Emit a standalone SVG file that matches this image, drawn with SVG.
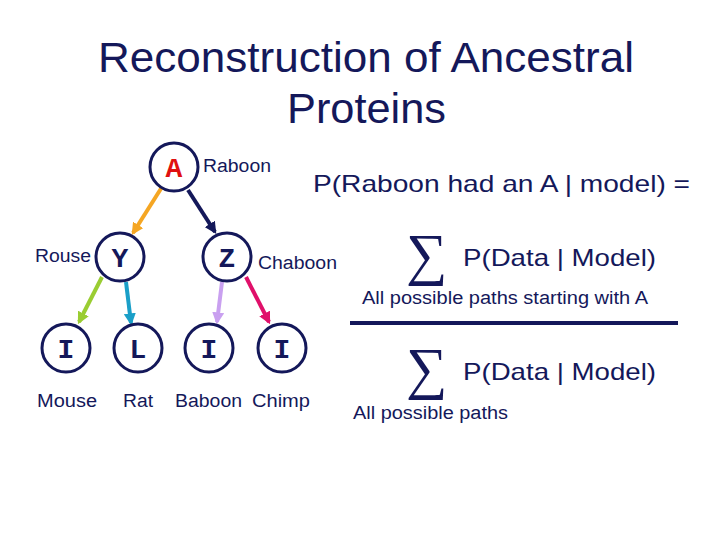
<svg xmlns="http://www.w3.org/2000/svg" width="720" height="540" viewBox="0 0 720 540">
<style>
.t{font-family:"Liberation Sans",Arial,sans-serif;fill:#14185a}
.n{fill:#fff;stroke:#14185a;stroke-width:3}
.m{font-family:"Liberation Mono","Courier New",monospace;font-weight:bold;font-size:28px;fill:#14185a;text-anchor:middle}
.s{font-family:"Liberation Serif","Times New Roman",serif;font-size:58px;fill:#14185a}
.c{stroke-width:4;fill:none}
</style>
<defs>
<marker id="ah" viewBox="0 0 10 10" refX="8" refY="5" markerWidth="3" markerHeight="3" orient="auto"><path d="M0,0L10,5L0,10z" fill="context-stroke"/></marker>
</defs>
<rect width="720" height="540" fill="#fff"/>
<text class="t" x="98" y="72" font-size="42" textLength="536" lengthAdjust="spacingAndGlyphs">Reconstruction of Ancestral</text>
<text class="t" x="287" y="123" font-size="42" textLength="159" lengthAdjust="spacingAndGlyphs">Proteins</text>
<g id="connectors">
<line class="c" x1="162" y1="187" x2="133" y2="233" stroke="#f5a623" marker-end="url(#ah)"/>
<line class="c" x1="188" y1="190" x2="215" y2="232" stroke="#14185a" marker-end="url(#ah)"/>
<line class="c" x1="102" y1="277" x2="79" y2="322" stroke="#9acd32" marker-end="url(#ah)"/>
<line class="c" x1="126" y1="282" x2="131" y2="323" stroke="#1a9fc8" marker-end="url(#ah)"/>
<line class="c" x1="222" y1="282" x2="217" y2="322" stroke="#c9a0f0" marker-end="url(#ah)"/>
<line class="c" x1="246" y1="277" x2="269" y2="322" stroke="#e0106a" marker-end="url(#ah)"/>
</g>
<g id="nodeA"><circle class="n" cx="174" cy="167" r="24"/><text class="m" x="174" y="177" style="fill:#e01010">A</text><text class="t" x="203" y="172" font-size="18" textLength="68" lengthAdjust="spacingAndGlyphs">Raboon</text></g>
<g id="nodeY"><circle class="n" cx="120" cy="257" r="24"/><text class="m" x="120" y="267">Y</text><text class="t" x="35" y="262" font-size="18" textLength="56" lengthAdjust="spacingAndGlyphs">Rouse</text></g>
<g id="nodeZ"><circle class="n" cx="227" cy="257" r="24"/><text class="m" x="227" y="267">Z</text><text class="t" x="258" y="269" font-size="18" textLength="79" lengthAdjust="spacingAndGlyphs">Chaboon</text></g>
<g id="mouse"><circle class="n" cx="66" cy="348" r="24"/><text class="m" x="66" y="358">I</text><text class="t" x="37" y="407" font-size="18" textLength="60" lengthAdjust="spacingAndGlyphs">Mouse</text></g>
<g id="rat"><circle class="n" cx="138" cy="348" r="24"/><text class="m" x="138" y="358">L</text><text class="t" x="123" y="407" font-size="18" textLength="30" lengthAdjust="spacingAndGlyphs">Rat</text></g>
<g id="baboon"><circle class="n" cx="209" cy="348" r="24"/><text class="m" x="209" y="358">I</text><text class="t" x="175" y="407" font-size="18" textLength="67" lengthAdjust="spacingAndGlyphs">Baboon</text></g>
<g id="chimp"><circle class="n" cx="282" cy="348" r="24"/><text class="m" x="282" y="358">I</text><text class="t" x="252" y="407" font-size="18" textLength="58" lengthAdjust="spacingAndGlyphs">Chimp</text></g>
<g id="formula">
<text class="t" x="313" y="192" font-size="24" textLength="377" lengthAdjust="spacingAndGlyphs">P(Raboon had an A | model) =</text>
<text class="s" x="406" y="274">∑</text>
<text class="t" x="463" y="266" font-size="24" textLength="193" lengthAdjust="spacingAndGlyphs">P(Data | Model)</text>
<text class="t" x="362" y="304" font-size="18" textLength="286" lengthAdjust="spacingAndGlyphs">All possible paths starting with A</text>
<line x1="350" y1="323" x2="678" y2="323" stroke="#14185a" stroke-width="4"/>
<text class="s" x="406" y="388">∑</text>
<text class="t" x="463" y="380" font-size="24" textLength="193" lengthAdjust="spacingAndGlyphs">P(Data | Model)</text>
<text class="t" x="353" y="419" font-size="18" textLength="155" lengthAdjust="spacingAndGlyphs">All possible paths</text>
</g>
</svg>
